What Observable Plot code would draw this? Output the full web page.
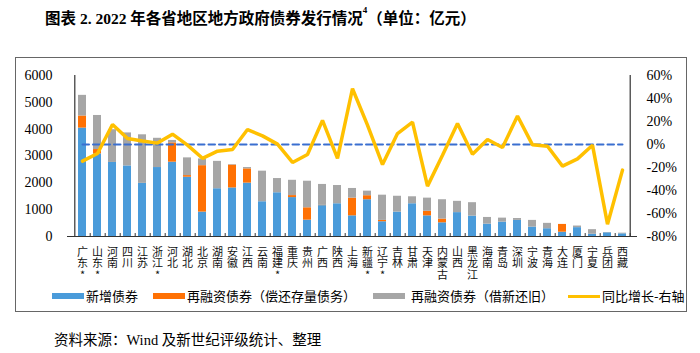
<!DOCTYPE html>
<html>
<head>
<meta charset="utf-8">
<script src="https://cdn.jsdelivr.net/npm/d3@7"></script>
<script src="https://cdn.jsdelivr.net/npm/@observablehq/plot@0.6"></script>
<style>
  body { margin:0; width:700px; height:353px; position:relative; background:#fff; overflow:hidden;
         font-family:"Liberation Serif","Noto Sans CJK SC",serif; color:#000; }
  #title { position:absolute; left:45px; top:11px; font-size:15.5px; line-height:16px; font-weight:bold; white-space:nowrap; }
  #title sup { font-size:9px; position:relative; top:-1px; vertical-align:top; line-height:0; }
  #frame { position:absolute; left:15px; top:57px; width:672px; height:255px; border:1px solid #666; box-sizing:border-box; }
  #chart { position:absolute; left:0; top:0; }
  .lg { position:absolute; top:289px; height:14px; font-size:13px; line-height:14px; white-space:nowrap;
        font-family:"Noto Sans CJK SC",sans-serif; }
  .sw { position:absolute; }
  #caption { position:absolute; left:54px; top:332px; font-size:14.5px; line-height:16px; white-space:nowrap; }
</style>
</head>
<body>
<div id="title">图表 2. 2022 年各省地区地方政府债券发行情况<sup>4</sup>（单位：亿元）</div>
<div id="frame"></div>
<div id="chart"></div>
<div id="legend"></div>
<div id="caption">资料来源：Wind 及新世纪评级统计、整理</div>
<script>
const regions = ["广东","山东","河南","四川","江苏","浙江","河北","湖北","北京","湖南","安徽","江西","云南","福建","重庆","贵州","广西","陕西","上海","新疆","辽宁","吉林","甘肃","天津","内蒙古","山西","黑龙江","海南","青岛","深圳","宁波","青海","大连","厦门","宁夏","兵团","西藏"];
const starred = ["广东","山东","浙江","福建","新疆","辽宁"];
const newBonds = [4040,3080,2760,2630,1980,2570,2770,2210,910,1780,1810,1990,1295,1630,1450,610,1150,1220,770,1370,550,910,1220,770,510,890,760,460,535,600,350,290,160,330,85,137,99];
const refiRepay = [450,160,0,0,0,0,720,60,1730,0,850,530,0,0,75,460,10,0,660,150,50,0,0,170,140,0,0,0,0,0,0,0,290,0,0,0,0];
const refiRoll = [770,1270,1220,1230,1810,1090,90,660,250,1020,20,50,1140,530,570,990,780,680,360,170,940,590,260,490,720,420,500,250,150,70,250,200,0,60,170,12,25];
const growth = [-14.5,-7.8,17.4,5.2,3.1,1.2,9,-0.6,-12,-5.8,-4.4,13,7.5,0.3,-15.6,-8.7,21,-12,48.5,16.8,-17.4,9.5,19.4,-36.2,-9.3,18.2,-8.4,4.3,-2.6,24.8,-0.3,-1.5,-18.8,-12.5,-0.6,-69.3,-22.3];
const seriesNames = ["新增债券","再融资债券（偿还存量债务）","再融资债券（借新还旧）","同比增长-右轴"];
const seriesColors = ["#4A9BDA","#FF7104","#A6A6A6","#FFC000"];
const leftTicks = [0,1000,2000,3000,4000,5000,6000];
const rightTicks = [-80,-60,-40,-20,0,20,40,60];

// map right-axis percent onto left scale domain
const rMin = -80, rMax = 60, lMax = 6000;
const toLeft = p => (p - rMin) / (rMax - rMin) * lMax;

const rows = [];
regions.forEach((r, i) => {
  rows.push({region: r, series: seriesNames[0], value: newBonds[i]});
  rows.push({region: r, series: seriesNames[1], value: refiRepay[i]});
  rows.push({region: r, series: seriesNames[2], value: refiRoll[i]});
});
const lineData = regions.map((r, i) => ({region: r, g: growth[i]}));

// vertical category labels: one glyph per row
const labelRows = [[], [], []];
regions.forEach(r => {
  const chars = [...r].concat(starred.includes(r) ? ["*"] : []);
  chars.forEach((c, k) => labelRows[k].push({region: r, ch: c}));
});

const W = 700, H = 292, ML = 67, MR = 63, MT = 75, MB = H - 236;
const half = (W - ML - MR) / regions.length / 2;
const rowStep = 11.7;

const chart = Plot.plot({
  width: W, height: H,
  marginLeft: ML, marginRight: MR, marginTop: MT, marginBottom: MB,
  style: {fontFamily: '"Liberation Serif","Noto Sans CJK SC",serif', fontSize: "14px", color: "#000", background: "transparent", overflow: "visible"},
  x: {domain: regions, paddingInner: 0.5, paddingOuter: 0.25, axis: null},
  y: {domain: [0, lMax], axis: null},
  color: {domain: seriesNames.slice(0,3), range: seriesColors.slice(0,3)},
  marks: [
    Plot.barY(rows, {x: "region", y: "value", fill: "series", order: seriesNames.slice(0,3)}),
    Plot.ruleY([0], {stroke: "#333", strokeWidth: 1.2}),
    Plot.ruleX(regions, {x: d => d, dx: half, y1: 0, y2: 110, stroke: "#333"}),
    Plot.ruleX([regions[0]], {dx: -half, y1: 0, y2: lMax, stroke: "#333", strokeWidth: 1.2}),
    Plot.ruleX([regions[regions.length-1]], {dx: half, y1: 0, y2: lMax, stroke: "#333", strokeWidth: 1.2}),
    Plot.axisY(leftTicks, {anchor: "left", label: null, tickSize: 0, tickPadding: 15, tickFormat: d => String(d)}),
    Plot.axisY(rightTicks.map(toLeft), {anchor: "right", label: null, tickSize: 0, tickPadding: 9,
      tickFormat: d => Math.round(d / lMax * (rMax - rMin) + rMin) + "%"}),
    Plot.line(lineData, {x: "region", y: () => toLeft(0), stroke: "#3A6FD0", strokeWidth: 2, strokeDasharray: "6.5,4"}),
    Plot.line(lineData, {x: "region", y: d => toLeft(d.g), stroke: seriesColors[3], strokeWidth: 3.5, strokeLinejoin: "miter"}),
    ...labelRows.map((rowData, k) => Plot.text(rowData, {x: "region", text: "ch",
      frameAnchor: "bottom", lineAnchor: "middle", dy: 15.5 + k * rowStep, fontSize: 11,
      fontFamily: '"Noto Sans CJK SC",sans-serif', fill: "#111"}))
  ]
});
document.getElementById("chart").appendChild(chart);

// legend
const lgPos = [[52, 86], [153, 187], [373, 411], [568, 602]];
const legend = document.getElementById("legend");
seriesNames.forEach((name, i) => {
  const sw = document.createElement("div");
  sw.className = "lg";
  const isLine = i === 3;
  sw.innerHTML = `<div class="sw" style="left:${lgPos[i][0]}px;top:${isLine ? 6 : 4}px;width:32px;height:${isLine ? 2.5 : 6}px;background:${seriesColors[i]}"></div>`;
  sw.style.left = "0px";
  legend.appendChild(sw);
  const t = document.createElement("div");
  t.className = "lg";
  t.style.left = lgPos[i][1] + "px";
  t.textContent = name;
  legend.appendChild(t);
});
</script>
</body>
</html>
